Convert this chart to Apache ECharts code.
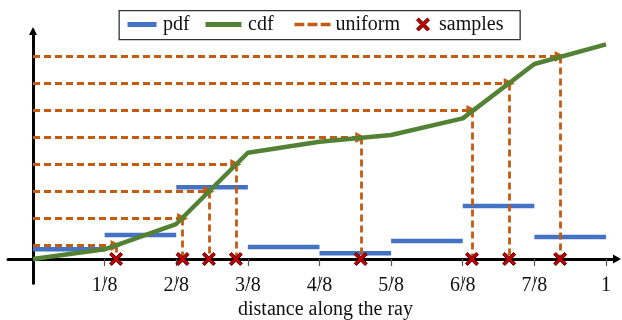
<!DOCTYPE html>
<html>
<head>
<meta charset="utf-8">
<script src="https://cdn.jsdelivr.net/npm/echarts@6/dist/echarts.min.js"></script>
<style>
html,body{margin:0;padding:0;background:#fff;}
#chart{width:622px;height:320px;}
</style>
</head>
<body>
<div id="chart"></div>
<script>
// ---- data ----
const tickValues = [0.125, 0.25, 0.375, 0.5, 0.625, 0.75, 0.875, 1];
const tickLabels = ['1/8', '2/8', '3/8', '4/8', '5/8', '6/8', '7/8', '1'];
const binEdges = [0, 0.125, 0.25, 0.375, 0.5, 0.625, 0.75, 0.875, 1];
const pdfValues = [0.045, 0.111, 0.332, 0.056, 0.027, 0.083, 0.245, 0.102];
const cdfX = [0, 0.125, 0.25, 0.375, 0.5, 0.625, 0.75, 0.875, 1];
const cdfY = [0, 0.045, 0.162, 0.492, 0.543, 0.574, 0.651, 0.903, 0.994];
const uniformLevels = [0.0625, 0.1875, 0.3125, 0.4375, 0.5625, 0.6875, 0.8125, 0.9375];
const sampleX = [0.145, 0.261, 0.307, 0.354, 0.572, 0.766, 0.831, 0.920];

const FONT = 'Liberation Serif';
const C_PDF = '#4472C4', C_CDF = '#548235', C_UNI = '#C55A11', C_SMP = '#C00000';
const XSHAPE = 'path://M2,0L6,4L10,0L12,2L8,6L12,10L10,12L6,8L2,12L0,10L4,6L0,2Z';

// build series data
const pdfData = [];
pdfValues.forEach((p, i) => {
  pdfData.push([binEdges[i], p], [binEdges[i + 1], p], [binEdges[i + 1], '-']);
});
const cdfData = cdfX.map((x, i) => [x, cdfY[i]]);
const uniH = uniformLevels.map((u, i) => ({ coords: [[0, u], [sampleX[i], u]] }));
const uniV = uniformLevels.map((u, i) => ({ coords: [[sampleX[i], u], [sampleX[i], 0]] }));
const smpData = sampleX.map(x => [x, 0]);

const chart = echarts.init(document.getElementById('chart'), null, { renderer: 'canvas' });

function leg(name, left, width, height, icon, color, extra) {
  return Object.assign({
    show: true, left: left, top: 14.5, padding: 0,
    itemWidth: width, itemHeight: height, selectedMode: false,
    textStyle: { fontFamily: FONT, fontSize: 20, color: '#111' },
    itemStyle: { color: color, borderWidth: 0 },
    data: [{ name: name, icon: icon }]
  }, extra || {});
}

chart.setOption({
  animation: false,
  grid: { left: 8, right: 5, top: 31, bottom: 36.7, containLabel: false, outerBoundsMode: 'none' },
  legend: [
    leg('pdf', 127.5, 32, 5, 'path://M0,0H29V5H0Z', C_PDF),
    leg('cdf', 205.5, 39, 5, 'path://M0,0H36V5H0Z', C_CDF),
    leg('uniform', 294.5, 36, 4, 'path://M0,0H9V3H0ZM12,0H21V3H12ZM24,0H33V3H24Z', C_UNI),
    leg('samples', 416, 22, 13, XSHAPE, C_SMP, {
      itemStyle: { color: C_SMP, borderColor: '#5a0000', borderWidth: 1 }
    })
  ],
  graphic: [{
    type: 'rect', left: 118.5, top: 10, z: -1,
    shape: { width: 401, height: 29 },
    style: { fill: '#fff', stroke: '#333', lineWidth: 1.3 }
  }],
  xAxis: [{
    type: 'value', min: -0.04363, max: 1.0192,
    name: 'distance along the ray', nameLocation: 'middle', nameGap: 15,
    nameTextStyle: { fontFamily: FONT, fontSize: 20, color: '#111', padding: [0, 0, 0, 26] },
    axisLine: { onZero: true, lineStyle: { color: '#000', width: 3 }, symbol: ['none', 'triangle'], symbolSize: [9, 8] },
    axisTick: { show: true, customValues: tickValues, length: 7, lineStyle: { color: '#555', width: 1.2 } },
    axisLabel: {
      customValues: tickValues, margin: -8,
      fontFamily: FONT, fontSize: 20, color: '#111',
      formatter: v => { const k = tickValues.findIndex(t => Math.abs(t - v) < 1e-9); return k >= 0 ? tickLabels[k] : ''; }
    },
    splitLine: { show: false }
  }, {
    type: 'value', min: -0.04363, max: 1.0192, position: 'bottom',
    axisLine: { onZero: true, lineStyle: { color: 'rgba(0,0,0,0)', width: 0 } },
    axisTick: { show: true, inside: true, customValues: tickValues, length: 7, lineStyle: { color: '#555', width: 1.2 } },
    axisLabel: { show: false },
    splitLine: { show: false }
  }],
  yAxis: {
    type: 'value', min: -0.1125, max: 1.0556,
    axisLine: { onZero: true, lineStyle: { color: '#000', width: 3 }, symbol: ['none', 'triangle'], symbolSize: [8, 8] },
    axisTick: { show: false }, axisLabel: { show: false }, splitLine: { show: false }
  },
  series: [
    {
      name: 'pdf', type: 'line', data: pdfData, symbol: 'none', connectNulls: false, z: 2,
      lineStyle: { color: C_PDF, width: 4.5, cap: 'butt' }, itemStyle: { color: C_PDF }
    },
    {
      name: 'uniform', type: 'lines', coordinateSystem: 'cartesian2d', z: 3,
      data: uniH, symbol: ['none', 'triangle'], symbolSize: 11,
      lineStyle: { color: C_UNI, width: 2.8, type: [7, 4], opacity: 1 }
    },
    {
      name: 'uniform', type: 'lines', coordinateSystem: 'cartesian2d', z: 3,
      data: uniV, symbol: ['none', 'none'],
      lineStyle: { color: C_UNI, width: 2.8, type: [7, 4], opacity: 1 }
    },
    {
      name: 'cdf', type: 'line', data: cdfData, symbol: 'none', z: 4,
      lineStyle: { color: C_CDF, width: 4.5 }, itemStyle: { color: C_CDF }
    },
    {
      name: 'samples', type: 'scatter', data: smpData, symbol: XSHAPE, symbolSize: 13, z: 5,
      itemStyle: { color: C_SMP, borderColor: '#5a0000', borderWidth: 1, opacity: 1 }
    }
  ]
});
</script>
</body>
</html>
